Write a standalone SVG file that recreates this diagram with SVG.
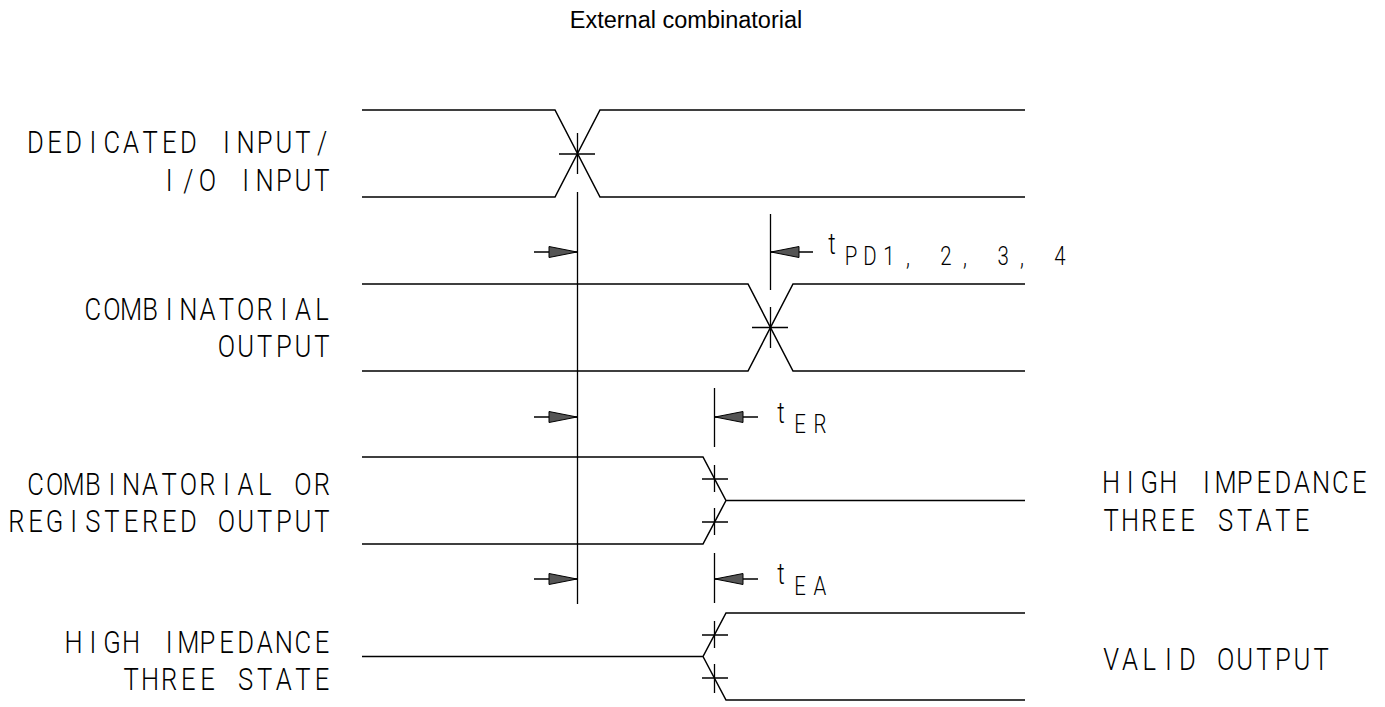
<svg xmlns="http://www.w3.org/2000/svg" width="1385" height="707" viewBox="0 0 1385 707">
<style>
.w{fill:none;stroke:#000;stroke-width:1.5;stroke-linejoin:miter}
.m{fill:none;stroke:#000;stroke-width:1.3}
.lbl{font-family:Roboto,"Liberation Sans",sans-serif;font-weight:300;font-size:32px;fill:#000;text-anchor:middle}
.t{font-family:Roboto,"Liberation Sans",sans-serif;font-weight:300;font-size:29px;fill:#000;text-anchor:middle}
.sub{font-family:Roboto,"Liberation Sans",sans-serif;font-weight:300;font-size:25.5px;fill:#000;text-anchor:middle}
.title{font-family:"Liberation Sans",Arial,sans-serif;font-size:23.5px;fill:#000}
.ah{fill:#555;stroke:#000;stroke-width:1}
</style>
<defs>
<path id="arR" class="ah" d="M0,0 L-28,-5.5 L-28,5.5 Z"/>
<path id="arL" class="ah" d="M0,0 L28,-5.5 L28,5.5 Z"/>
</defs>
<text class="title" x="686" y="28" text-anchor="middle">External combinatorial</text>

<g id="sig1">
<path class="w" d="M362,110 H555 L600,197 H1025 M362,197 H555 L600,110 H1025"/>
<path class="m" d="M559,154 H595 M577.5,133 V174"/>
<g transform="scale(0.8,1)">
<text class="lbl" x="44.4 68.3 92.1 116 139.9 163.8 187.6 211.5 235.4 259.3 283.1 307 330.9 354.8 378.6 402.5" y="153">DEDICATED INPUT/</text>
<text class="lbl" x="211.5 235.4 259.3 283.1 307 330.9 354.8 378.6 402.5" y="191">I/O INPUT</text>
</g>
</g>

<g id="sig2">
<path class="w" d="M362,284 H748 L793,371 H1025 M362,371 H748 L793,284 H1025"/>
<path class="m" d="M752,327.5 H788 M770.5,307 V348"/>
<g transform="scale(0.8,1)">
<text class="lbl" x="116 139.9 163.8 187.6 211.5 235.4 259.3 283.1 307 330.9 354.8 378.6 402.5" y="320">COMBINATORIAL</text>
<text class="lbl" x="283.1 307 330.9 354.8 378.6 402.5" y="357">OUTPUT</text>
</g>
</g>

<g id="sig3">
<path class="w" d="M362,457 H703 L726,500.5 H1025 M362,544 H703 L726,500.5"/>
<path class="m" d="M702,479 H728 M714.5,465 V492 M702,522 H728 M714.5,508 V535"/>
<g transform="scale(0.8,1)">
<text class="lbl" x="44.4 68.3 92.1 116 139.9 163.8 187.6 211.5 235.4 259.3 283.1 307 330.9 354.8 378.6 402.5" y="495">COMBINATORIAL OR</text>
<text class="lbl" x="20.5 44.4 68.3 92.1 116 139.9 163.8 187.6 211.5 235.4 259.3 283.1 307 330.9 354.8 378.6 402.5" y="532">REGISTERED OUTPUT</text>
<text class="lbl" x="1388.8 1412.6 1436.5 1460.4 1484.3 1508.1 1532 1555.9 1579.8 1603.6 1627.5 1651.4 1675.3 1699.1" y="493">HIGH IMPEDANCE</text>
<text class="lbl" x="1388.8 1412.6 1436.5 1460.4 1484.3 1508.1 1532 1555.9 1579.8 1603.6 1627.5" y="531">THREE STATE</text>
</g>
</g>

<g id="sig4">
<path class="w" d="M362,656.5 H703 L726,613 H1025 M703,656.5 L726,700 H1025"/>
<path class="m" d="M702,635 H728 M714.5,621 V648 M702,678 H728 M714.5,664 V693"/>
<g transform="scale(0.8,1)">
<text class="lbl" x="92.1 116 139.9 163.8 187.6 211.5 235.4 259.3 283.1 307 330.9 354.8 378.6 402.5" y="653">HIGH IMPEDANCE</text>
<text class="lbl" x="163.8 187.6 211.5 235.4 259.3 283.1 307 330.9 354.8 378.6 402.5" y="690">THREE STATE</text>
<text class="lbl" x="1388.8 1412.6 1436.5 1460.4 1484.3 1508.1 1532 1555.9 1579.8 1603.6 1627.5 1651.4" y="670">VALID OUTPUT</text>
</g>
</g>

<g id="connectors">
<path class="m" d="M577.5,192 V604"/>
<path class="m" d="M534,252 H577 M534,417 H577 M534,579 H577"/>
<use href="#arR" x="577" y="252"/>
<use href="#arR" x="577" y="417"/>
<use href="#arR" x="577" y="579"/>

<path class="m" d="M770.5,214 V290 M771,252 H813"/>
<use href="#arL" x="771" y="252"/>

<path class="m" d="M714.5,388 V447 M715,417 H758"/>
<use href="#arL" x="715" y="417"/>

<path class="m" d="M714.5,553 V603 M715,579 H758"/>
<use href="#arL" x="715" y="579"/>
</g>

<g id="timing-labels" transform="scale(0.8,1)">
<text class="t" x="1040" y="254">t</text>
<text class="sub" x="1063.8 1087.5 1111.3 1135 1158.8 1182.5 1206.3 1230 1253.8 1277.5 1301.3 1325" y="265">PD1, 2, 3, 4</text>
<text class="t" x="976.3" y="423">t</text>
<text class="sub" x="1000 1025" y="433">ER</text>
<text class="t" x="976.3" y="584">t</text>
<text class="sub" x="1000 1025" y="595">EA</text>
</g>
</svg>
